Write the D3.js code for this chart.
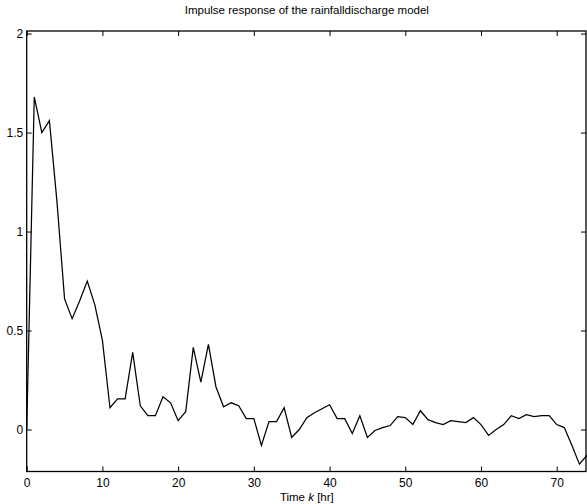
<!DOCTYPE html>
<html>
<head>
<meta charset="utf-8">
<script src="https://cdn.jsdelivr.net/npm/d3@7"></script>
<style>
  html, body { margin: 0; padding: 0; background: #fff; }
  svg { display: block; font-family: "Liberation Sans", Arial, Helvetica, sans-serif; }
  .tick text { font-size: 12px; fill: #000; }
  .tick line { stroke: #000; }
</style>
</head>
<body>
<svg id="chart" width="587" height="504"></svg>
<script>
// Impulse response samples h(k), k = 0, 1, 2, ... (hours)
const responseValues = [
  0.00, 1.68, 1.50, 1.56, 1.15, 0.66, 0.56, 0.65, 0.75, 0.63,
  0.45, 0.11, 0.155, 0.155, 0.39, 0.12, 0.07, 0.07, 0.165, 0.135,
  0.045, 0.09, 0.415, 0.24, 0.43, 0.215, 0.115, 0.135, 0.12, 0.055,
  0.055, -0.08, 0.04, 0.04, 0.11, -0.04, 0.00, 0.06, 0.085, 0.105,
  0.125, 0.055, 0.055, -0.02, 0.07, -0.04, -0.005, 0.01, 0.02, 0.065,
  0.06, 0.025, 0.095, 0.05, 0.035, 0.025, 0.045, 0.04, 0.035, 0.06,
  0.025, -0.03, 0.00, 0.025, 0.07, 0.055, 0.075, 0.065, 0.07, 0.07,
  0.025, 0.01, -0.08, -0.175, -0.13
];
const timeSteps = responseValues.map((_, i) => i);

const xTicks = [0, 10, 20, 30, 40, 50, 60, 70];
const yTicks = [0, 0.5, 1, 1.5, 2];

const titleText = "Impulse response of the rainfalldischarge model";

const svg = d3.select("#chart");
const plotLeft = 26.7, plotRight = 587, plotTop = 31, plotBottom = 471.5;

const x = d3.scaleLinear().domain([0, 74]).range([plotLeft, plotRight]);
const y = d3.scaleLinear().domain([-0.212, 2.013]).range([plotBottom, plotTop]);

svg.append("rect").attr("width", 587).attr("height", 504).attr("fill", "#fff");

// Ticks point inward on all four sides of the box
const fmt = d3.format("~g");
svg.append("g").attr("transform", `translate(0,${plotBottom})`)
  .call(d3.axisBottom(x).tickValues(xTicks).tickFormat(fmt).tickSizeInner(-5).tickSizeOuter(0).tickPadding(7))
  .call(g => g.select(".domain").remove());
svg.append("g").attr("transform", `translate(0,${plotTop})`)
  .call(d3.axisTop(x).tickValues(xTicks).tickFormat("").tickSizeInner(-5).tickSizeOuter(0))
  .call(g => g.select(".domain").remove());
svg.append("g").attr("transform", `translate(${plotLeft},0)`)
  .call(d3.axisLeft(y).tickValues(yTicks).tickFormat(fmt).tickSizeInner(-5).tickSizeOuter(0).tickPadding(3.5))
  .call(g => g.select(".domain").remove());
svg.append("g").attr("transform", `translate(${plotRight - 1},0)`)
  .call(d3.axisRight(y).tickValues(yTicks).tickFormat("").tickSizeInner(-5).tickSizeOuter(0))
  .call(g => g.select(".domain").remove());

svg.selectAll("g").attr("font-family", null).attr("font-size", null);

// Plot box
svg.append("rect")
  .attr("x", plotLeft).attr("y", plotTop)
  .attr("width", plotRight - 1 - plotLeft).attr("height", plotBottom - plotTop)
  .attr("fill", "none").attr("stroke", "#000").attr("stroke-width", 1.3);

// Response curve
const line = d3.line().x((d, i) => x(timeSteps[i])).y(d => y(d));
svg.append("path")
  .datum(responseValues)
  .attr("d", line)
  .attr("fill", "none")
  .attr("stroke", "#000")
  .attr("stroke-width", 1.25)
  .attr("stroke-linejoin", "miter");

// Title
svg.append("text")
  .attr("x", (plotLeft + plotRight) / 2).attr("y", 14)
  .attr("text-anchor", "middle")
  .attr("font-size", 11.5)
  .text(titleText);

// X label: Time k [hr]
const xl = svg.append("text")
  .attr("x", (plotLeft + plotRight) / 2).attr("y", 501)
  .attr("text-anchor", "middle")
  .attr("font-size", 11.5);
xl.append("tspan").text("Time  ");
xl.append("tspan").attr("font-style", "italic").text("k");
xl.append("tspan").text("  [hr]");
</script>
</body>
</html>
